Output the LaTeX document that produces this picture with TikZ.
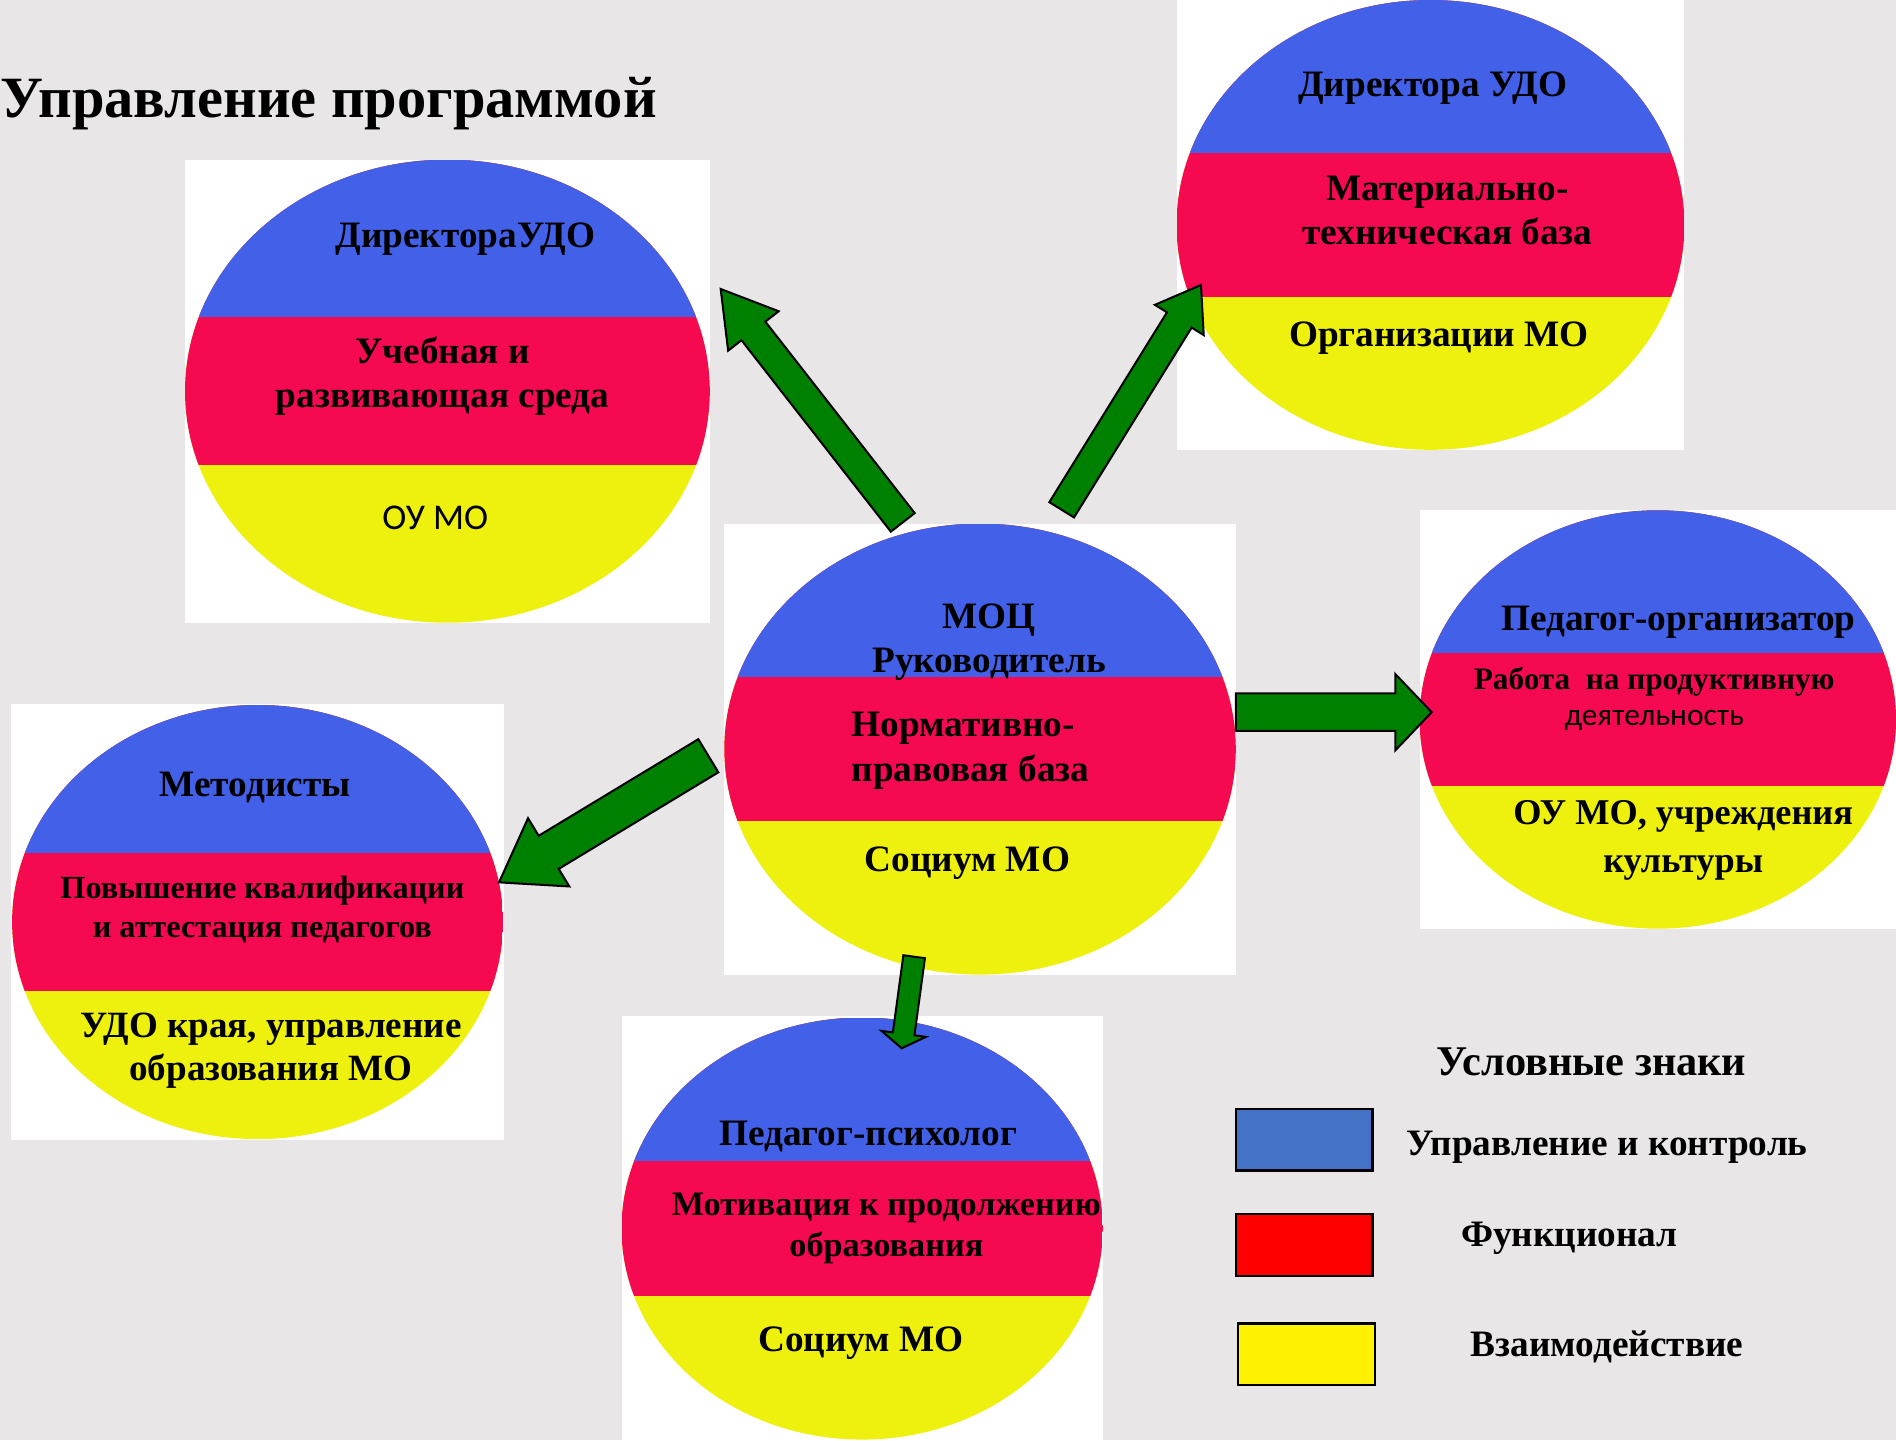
\documentclass[tikz,border=0pt]{standalone}
\usepackage{fontspec}
\setmainfont{Liberation Serif}
\newfontfamily\calfont{Carlito}
\usetikzlibrary{shapes.geometric,calc}

\definecolor{bgc}{RGB}{232,230,231}
\definecolor{cblue}{RGB}{67,97,232}
\definecolor{cred}{RGB}{245,10,82}
\definecolor{cyel}{RGB}{238,240,14}
\definecolor{agreen}{RGB}{0,128,0}
\definecolor{kblue}{RGB}{68,114,196}

% tail, tip, shaft width, head width, head length
\newcommand\blockarrow[5]{%
  \pgfmathsetmacro\arS{#3*0.3}%
  \pgfmathsetmacro\arH{#4*0.3}%
  \pgfmathsetmacro\arL{#5*0.6}%
  \draw[arrowbody] let \p1=($(#2)!\arL pt!(#1)$) in
    ($(#1)!\arS pt!90:(#2)$) -- ($(\p1)!\arS pt!-90:(#1)$) -- ($(\p1)!\arH pt!-90:(#1)$) -- (#2)
    -- ($(\p1)!\arH pt!90:(#1)$) -- ($(\p1)!\arS pt!90:(#1)$) -- ($(#1)!\arS pt!-90:(#2)$) -- cycle;
}

\begin{document}
\begin{tikzpicture}[x=0.6pt, y=-0.6pt,
  dims/.style 2 args={minimum width=#1*0.6pt, minimum height=#2*0.6pt},
  imgbox/.style={fill=white, inner sep=0pt},
  tri/.style={ellipse, inner sep=0pt, path picture={
    \fill[cyel] (path picture bounding box.south west) rectangle (path picture bounding box.north east);
    \fill[cred] (path picture bounding box.north west) rectangle ($(path picture bounding box.south east)!0.34!(path picture bounding box.north east)$);
    \fill[cblue] (path picture bounding box.north west) rectangle ($(path picture bounding box.north east)!0.34!(path picture bounding box.south east)$);
  }},
  lbl/.style={font=\fontsize{18.5}{22.2}\selectfont\bfseries, align=center, inner sep=0pt, yshift=-1.8pt},
  title/.style={font=\fontsize{29}{34}\selectfont\bfseries, inner sep=0pt},
  arrowbody/.style={fill=agreen, draw=black, line width=1pt, line join=miter},
  key/.style={draw=black, line width=1.2pt, inner sep=0pt, dims={113}{51}}]

\fill[bgc] (0,0) rectangle (1568,1191);
\useasboundingbox (0,0) rectangle (1568,1191);

\node[title, anchor=base west] (title) at (0,97) {Управление программой};

% picture boxes
\node[imgbox, dims={434}{383}] (udoA-box) at (370,323.5) {};
\node[imgbox, dims={420}{372}] (udoB-box) at (1183,186) {};
\node[imgbox, dims={423}{373}] (moc-box) at (810.5,619.5) {};
\node[imgbox, dims={394}{346}] (orgz-box) at (1371,595) {};
\node[imgbox, dims={408}{361}] (metod-box) at (213,762.5) {};
\node[imgbox, dims={398}{351}] (psych-box) at (713,1015.5) {};

\node[tri, dims={434}{383}] (udoA) at (udoA-box) {};
\node[tri, dims={420}{372}] (udoB) at (udoB-box) {};
\node[tri, dims={423}{373}] (moc) at (moc-box) {};
\node[tri, dims={394}{346}] (orgz) at (orgz-box) {};
\node[tri, dims={406}{359}] (metod) at (metod-box) {};
\node[tri, dims={398}{349}] (psych) at (713,1016) {};

\node[lbl] (udoA-t1) at (385,195) {ДиректораУДО};
\node[lbl] (udoA-t2) at (366,308) {Учебная и\\развивающая среда};
\node[lbl, font=\calfont\fontsize{18}{21}\selectfont] (udoA-t3) at (360,425) {ОУ МО};

\node[lbl] (udoB-t1) at (1185,70) {Директора УДО};
\node[lbl] (udoB-t2) at (1197,171) {Материально-\\техническая база};
\node[lbl] (udoB-t3) at (1190,277) {Организации МО};

\node[lbl] (moc-t1) at (818,528) {МОЦ\\Руководитель};
\node[lbl, align=left, anchor=west] (moc-t2) at (704,618) {Нормативно-\\правовая база};
\node[lbl] (moc-t3) at (800,711) {Социум МО};

\node[lbl] (orgz-t1) at (1388,512) {Педагог-организатор};
\node[lbl, font=\fontsize{15.5}{18}\selectfont\bfseries] (orgz-t2) at (1368,575) {Работа\ \ на продуктивную\\{\calfont\mdseries\fontsize{15.6}{18}\selectfont деятельность}};
\node[lbl, font=\fontsize{18}{23.4}\selectfont\bfseries] (orgz-t3) at (1392,692) {ОУ МО, учреждения\\культуры};

\node[lbl] (metod-t1) at (211,648) {Методисты};
\node[lbl, font=\fontsize{16}{19.2}\selectfont\bfseries] (metod-t2) at (217,749) {Повышение квалификации\\и аттестация педагогов};
\node[lbl, font=\fontsize{18.4}{21.6}\selectfont\bfseries] (metod-t3) at (224,866) {УДО края, управление\\образования МО};

\node[lbl] (psych-t1) at (718,937) {Педагог-психолог};
\node[lbl, font=\fontsize{17}{20.4}\selectfont\bfseries] (psych-t2) at (733,1013) {Мотивация к продолжению\\образования};
\node[lbl] (psych-t3) at (712,1108) {Социум МО};

% arrows
\coordinate (moc-nw) at (746.6,432);  \coordinate (udoA-in) at (596,239);
\coordinate (moc-ne) at (878,421.6);  \coordinate (udoB-in) at (993.2,235.7);
\coordinate (moc-e) at (1022,589);    \coordinate (orgz-in) at (1184,589);
\coordinate (moc-w) at (585.8,625);   \coordinate (metod-in) at (412.7,729.7);
\coordinate (moc-s) at (756,791.2);   \coordinate (psych-in) at (745.7,866.9);
\blockarrow{moc-nw}{udoA-in}{25}{53}{44}
\blockarrow{moc-ne}{udoB-in}{24}{47.5}{34}
\blockarrow{moc-e}{orgz-in}{31}{63}{30}
\blockarrow{moc-w}{metod-in}{32}{66}{48}
\blockarrow{moc-s}{psych-in}{18}{37}{12}

% legend
\node[lbl, font=\fontsize{21}{25}\selectfont\bfseries] (keys) at (1316,875) {Условные знаки};
\node[key, fill=kblue] (key1) at (1078.5,942.5) {};
\node[key, fill=red] (key2) at (1078.5,1029.5) {};
\node[key, fill=yellow] (key3) at (1080.5,1120) {};
\node[lbl] (key1-t) at (1329,946) {Управление и контроль};
\node[lbl] (key2-t) at (1298,1021) {Функционал};
\node[lbl] (key3-t) at (1329,1111) {Взаимодействие};
\end{tikzpicture}
\end{document}
